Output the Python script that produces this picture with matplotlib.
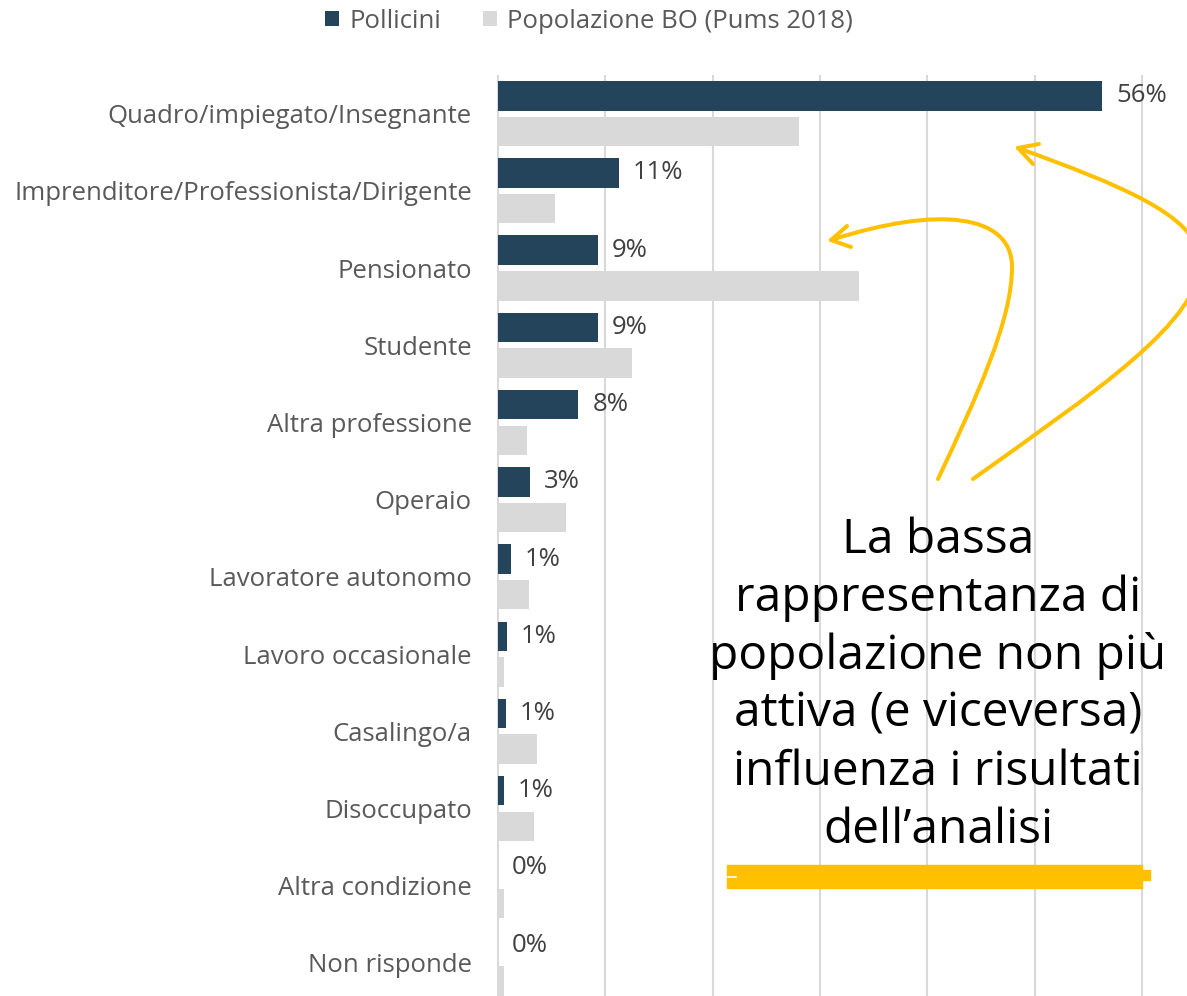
import matplotlib
matplotlib.use("Agg")
import matplotlib.pyplot as plt
import numpy as np
from matplotlib.path import Path
from matplotlib.patches import PathPatch, Rectangle
from matplotlib.lines import Line2D

# --- data ---
categories = [
    "Quadro/impiegato/Insegnante",
    "Imprenditore/Professionista/Dirigente",
    "Pensionato",
    "Studente",
    "Altra professione",
    "Operaio",
    "Lavoratore autonomo",
    "Lavoro occasionale",
    "Casalingo/a",
    "Disoccupato",
    "Altra condizione",
    "Non risponde",
]
pollicini = [56.3, 11.3, 9.3, 9.3, 7.5, 3.0, 1.2, 0.85, 0.7, 0.55, 0.0, 0.0]
popolazione = [28.0, 5.3, 33.6, 12.5, 2.7, 6.3, 2.9, 0.6, 3.6, 3.4, 0.6, 0.6]
value_labels = ["56%", "11%", "9%", "9%", "8%", "3%", "1%", "1%", "1%", "1%", "0%", "0%"]
series_names = ["Pollicini", "Popolazione BO (Pums 2018)"]
note_lines = [
    "La bassa",
    "rappresentanza di",
    "popolazione non più",
    "attiva (e viceversa)",
    "influenza i risultati",
    "dell\u2019analisi",
]

DARK = "#23445A"
LIGHT = "#D9D9D9"
YELLOW = "#FFC000"
W, H = 1187, 996
FONT = "Open Sans"
FS = 18.5


def fx(x):
    return x / W


def fy(y):
    return 1 - y / H


fig = plt.figure(figsize=(W / 100, H / 100), dpi=100)
ax = fig.add_axes([0.41683, -0.0056, 0.54976, 0.9303])

y = np.arange(len(categories))
off, h = 0.231, 0.382
ax.barh(y - off, pollicini, height=h, color=DARK, zorder=3, label=series_names[0])
ax.barh(y + off, popolazione, height=h, color=LIGHT, zorder=3, label=series_names[1])

for yi, v, lab in zip(y, pollicini, value_labels):
    ax.annotate(lab, (v, yi - off), xytext=(10, 0), textcoords="offset points",
                va="center", ha="left", fontsize=FS, color="#404040", family=FONT)

ax.set_xlim(-0.3, 60.5)
ax.set_ylim(len(categories) - 0.5, -0.5)
ax.set_xticks(np.arange(0, 61, 10))
ax.set_xticklabels([])
ax.tick_params(axis="x", length=0)
ax.set_yticks(y)
ax.set_yticklabels(categories, fontsize=FS, color="#595959", family=FONT)
ax.tick_params(axis="y", length=0, pad=16.5)
ax.grid(axis="x", color=LIGHT, lw=1.5, zorder=0)
for s in ax.spines.values():
    s.set_visible(False)

leg = fig.legend(loc="center", bbox_to_anchor=(fx(589), fy(21)), ncol=2, frameon=False,
                 prop={"family": FONT, "size": FS}, handlelength=0.55, handleheight=0.55,
                 handletextpad=0.4, columnspacing=1.6)
for t in leg.get_texts():
    t.set_color("#595959")

# annotation text
for i, line in enumerate(note_lines):
    fig.text(fx(938), fy(553 + i * 58), line, ha="center", va="baseline",
             fontsize=34.5, family=FONT, color="black")

# yellow highlight under the text
fig.patches.append(Rectangle((fx(727), fy(888)), fx(1142) - fx(727), fy(865) - fy(888),
                             transform=fig.transFigure, color=YELLOW, zorder=5))
fig.patches.append(Rectangle((fx(1140), fy(880)), fx(1150) - fx(1140), fy(870) - fy(880),
                             transform=fig.transFigure, color=YELLOW, zorder=5))
fig.lines.append(Line2D([fx(728), fx(736)], [fy(877), fy(877)], transform=fig.transFigure,
                        color="white", lw=1.2, zorder=6))


# curved arrows (pixel coords of the reference)
def curve(points, tip, barbs):
    codes = [Path.MOVETO] + [Path.CURVE4] * (len(points) - 1)
    verts = [(fx(px), fy(py)) for px, py in points]
    fig.patches.append(PathPatch(Path(verts, codes), transform=fig.transFigure, fill=False,
                                 edgecolor=YELLOW, lw=2.9, capstyle="round", zorder=6))
    for bx, by in barbs:
        fig.lines.append(Line2D([fx(tip[0]), fx(bx)], [fy(tip[1]), fy(by)],
                                transform=fig.transFigure, color=YELLOW, lw=2.9,
                                solid_capstyle="round", zorder=6))


curve([(938, 479), (975, 400), (1013, 320), (1012, 265),
       (1010, 215), (940, 205), (831, 240)],
      (831, 240), [(847, 226), (851, 247)])
curve([(973, 479), (1090, 395), (1205, 320), (1200, 258),
       (1195, 215), (1120, 185), (1018, 148)],
      (1018, 148), [(1039, 144), (1033, 164)])

fig.savefig("out.png", dpi=100)
